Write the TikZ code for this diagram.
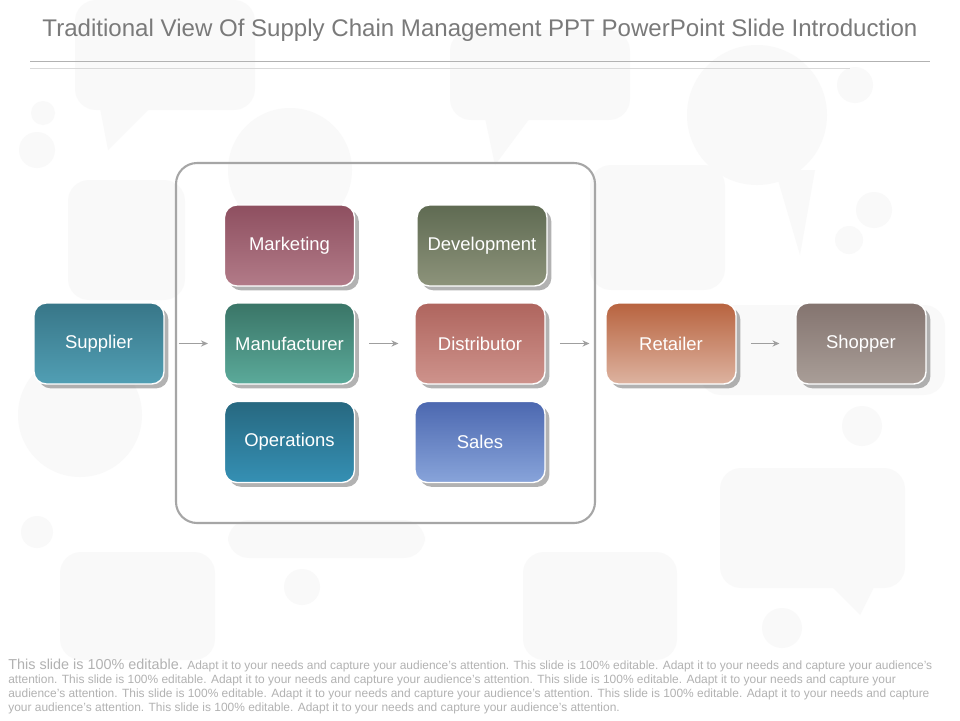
\documentclass[tikz,border=0pt]{standalone}
\usepackage{fontspec}
\setmainfont{Liberation Sans}
\usetikzlibrary{shadows,arrows.meta}

\definecolor{suptop}{HTML}{387688}
\definecolor{supbot}{HTML}{519FB4}
\definecolor{mkttop}{HTML}{8E4F60}
\definecolor{mktbot}{HTML}{B27B88}
\definecolor{mantop}{HTML}{3A7567}
\definecolor{manbot}{HTML}{5BAA9A}
\definecolor{devtop}{HTML}{5F6B52}
\definecolor{devbot}{HTML}{8D937B}
\definecolor{distop}{HTML}{AF655E}
\definecolor{disbot}{HTML}{CE938C}
\definecolor{optop}{HTML}{276880}
\definecolor{opbot}{HTML}{3590B4}
\definecolor{saltop}{HTML}{4C68B0}
\definecolor{salbot}{HTML}{88A4DA}
\definecolor{rettop}{HTML}{B8633F}
\definecolor{retbot}{HTML}{DDB3A0}
\definecolor{shotop}{HTML}{84746F}
\definecolor{shobot}{HTML}{A99E98}

\tikzset{
  stage/.style={rectangle, rounded corners=7pt, draw=white, line width=0.8pt,
    minimum width=2.6cm, minimum height=1.62cm, text=white,
    font=\fontsize{10.5}{12}\selectfont,
    drop shadow={shadow xshift=2.5pt, shadow yshift=-2.5pt, fill=black!60, opacity=0.5}},
  flow/.style={draw=gray!75, line width=0.6pt, -{Stealth[length=4pt,width=3.5pt]},
    shorten <=8pt, shorten >=9pt},
  bubble/.style={fill=black!2.5, draw=none}
}

\begin{document}
\begin{tikzpicture}[x=0.02cm, y=-0.02cm]
  \fill[white] (0,0) rectangle (960,720);
  \useasboundingbox (0,0) rectangle (960,720);

  % faint speech bubbles in the background
  \fill[bubble, rounded corners=12pt] (75,0) rectangle (255,110);
  \fill[bubble] (100,108) -- (150,108) -- (108,150) -- cycle;
  \fill[bubble, rounded corners=12pt] (450,30) rectangle (630,120);
  \fill[bubble] (485,118) -- (530,118) -- (495,165) -- cycle;
  \fill[bubble] (757,115) circle (70);
  \fill[bubble] (775,170) -- (815,170) -- (800,255) -- cycle;
  \fill[bubble] (290,170) circle (62);
  \fill[bubble, rounded corners=12pt] (590,165) rectangle (725,290);
  \fill[bubble, rounded corners=12pt] (68,180) rectangle (185,300);
  \fill[bubble] (80,415) circle (62);
  \fill[bubble, rounded corners=12pt] (700,305) rectangle (945,395);
  \fill[bubble, rounded corners=12pt] (720,468) rectangle (905,588);
  \fill[bubble] (830,585) -- (875,585) -- (860,615) -- cycle;
  \fill[bubble, rounded corners=12pt] (60,552) rectangle (215,660);
  \fill[bubble, rounded corners=12pt] (523,552) rectangle (677,660);
  \fill[bubble, rounded corners=12pt] (228,520) rectangle (425,558);
  \fill[bubble] (43,113) circle (12);
  \fill[bubble] (37,150) circle (18);
  \fill[bubble] (37,532) circle (16);
  \fill[bubble] (302,587) circle (18);
  \fill[bubble] (855,85) circle (18);
  \fill[bubble] (874,210) circle (18);
  \fill[bubble] (849,240) circle (14);
  \fill[bubble] (862,426) circle (20);
  \fill[bubble] (782,628) circle (20);

  % title
  \node (title) at (480,30) {\textcolor{black!52}{\fontsize{13.7}{16}\selectfont Traditional View Of Supply Chain Management PPT PowerPoint Slide Introduction}};
  \draw[black!30, line width=0.5pt] (30,61) -- (930,61);
  \draw[black!15, line width=0.5pt] (30,68) -- (850,68);

  % frame round the company
  \draw[black!35, line width=1.2pt, rounded corners=12pt] (176,163) rectangle (595,523);

  % the stages
  \node[stage, top color=suptop, bottom color=supbot] (supplier) at (99,343.5) {Supplier};
  \node[stage, top color=mantop, bottom color=manbot] (manufacturer) at (289.5,343.5) {Manufacturer};
  \node[stage, top color=distop, bottom color=disbot] (distributor) at (480,343.5) {Distributor};
  \node[stage, top color=rettop, bottom color=retbot] (retailer) at (671,343.5) {Retailer};
  \node[stage, top color=shotop, bottom color=shobot] (shopper) at (861,343.5) {Shopper};
  \node[stage, top color=mkttop, bottom color=mktbot] (marketing) at (289.5,245.5) {Marketing};
  \node[stage, top color=devtop, bottom color=devbot] (development) at (482,245.5) {Development};
  \node[stage, top color=optop, bottom color=opbot] (operations) at (289.5,442) {Operations};
  \node[stage, top color=saltop, bottom color=salbot] (sales) at (480,442) {Sales};

  % the flow
  \draw[flow] (supplier) -- (manufacturer);
  \draw[flow] (manufacturer) -- (distributor);
  \draw[flow] (distributor) -- (retailer);
  \draw[flow] (retailer) -- (shopper);

  % footer
  \node[anchor=north west, inner sep=0pt, align=left, text=black!30,
    font=\fontsize{6.8}{7.94}\selectfont] (footer) at (8,658.5)
    {{\fontsize{8.2}{7.94}\selectfont This slide is 100\% editable.} Adapt it to your needs and capture your audience's attention. This slide is 100\% editable. Adapt it to your needs and capture your audience's\\
     attention. This slide is 100\% editable. Adapt it to your needs and capture your audience's attention. This slide is 100\% editable. Adapt it to your needs and capture your\\
     audience's attention. This slide is 100\% editable. Adapt it to your needs and capture your audience's attention. This slide is 100\% editable. Adapt it to your needs and capture\\
     your audience's attention. This slide is 100\% editable. Adapt it to your needs and capture your audience's attention.};
\end{tikzpicture}
\end{document}
